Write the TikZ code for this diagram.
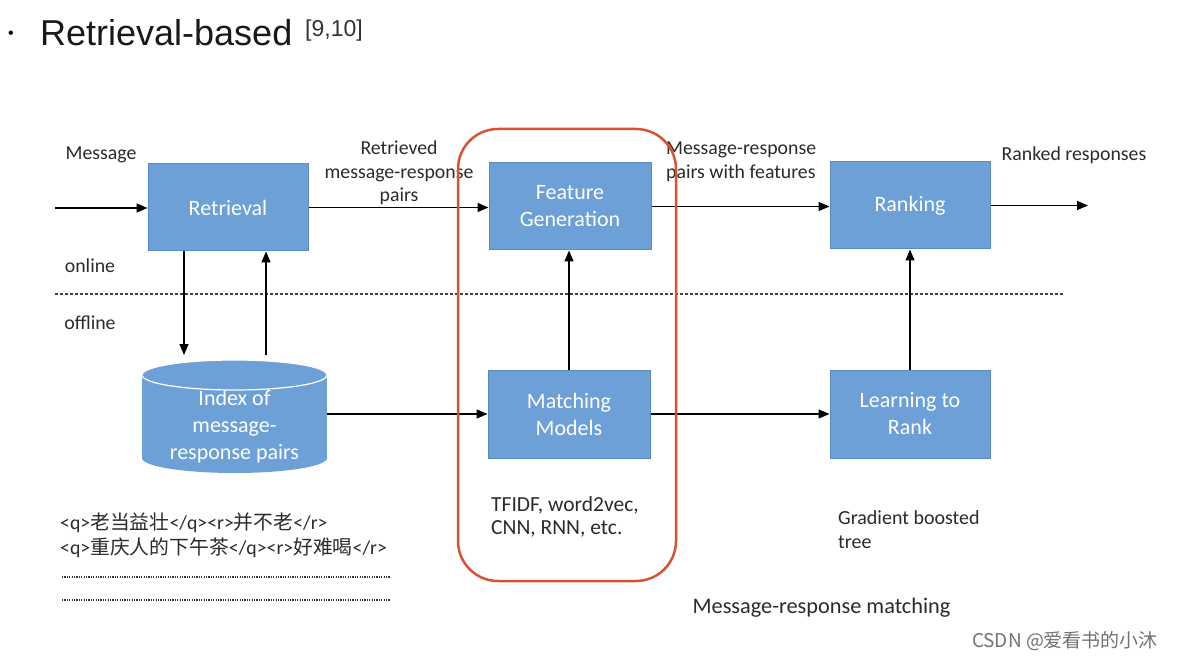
\documentclass[tikz,border=0pt]{standalone}
\usepackage{fontspec}
\setmainfont{Carlito}
\newfontfamily\titlefont{Liberation Sans}
\newfontfamily\cjk{Noto Sans CJK SC}
\usetikzlibrary{arrows.meta}
\definecolor{boxfill}{HTML}{6DA0D6}
\definecolor{boxedge}{HTML}{5A8AC4}
\definecolor{hlred}{HTML}{D95332}
\definecolor{txt}{HTML}{2B2B2B}
\begin{document}
\begin{tikzpicture}[x=1pt,y=-1pt,
  box/.style={draw=boxedge, fill=boxfill, line width=1pt, text=white, font=\fontsize{22}{27}\selectfont, align=center, minimum width=160pt, minimum height=87pt, inner sep=0pt},
  lbl/.style={font=\fontsize{19.8}{23.5}\selectfont, text=txt, inner sep=0pt},
  arr/.style={-{Triangle[length=11pt,width=9pt]}, line width=1.3pt},
  sep/.style={dashed, dash pattern=on 3pt off 2pt, line width=1.2pt, black!75},
  dots/.style={dash pattern=on 1.2pt off 1.2pt, line width=1.1pt, black!80}]
\useasboundingbox[fill=white] (0,0) rectangle (1178,660);
% title
\node[font=\titlefont\fontsize{16}{16}\selectfont, inner sep=0pt] (bul) at (11,35) {•};
\node[font=\titlefont\fontsize{36}{36}\selectfont, anchor=base west, inner sep=0pt, text=black!90] (title) at (40,46) {Retrieval-based};
\node[font=\titlefont\fontsize{23}{23}\selectfont, anchor=base west, inner sep=0pt, text=black!80] (cite) at (305,37) {[9,10]};
% boxes
\node[box] (ret) at (228,207.5) {Retrieval};
\node[box, minimum width=162pt] (fg) at (570,206.5) {Feature\\Generation};
\node[box] (rank) at (910,205.5) {Ranking};
\node[box, minimum width=162pt, minimum height=88pt] (mm) at (569,414) {Matching\\Models};
\node[box, minimum height=88pt] (ltr) at (910,414) {Learning to\\Rank};
% cylinder
\node[minimum width=185pt, minimum height=113pt, inner sep=0pt] (cyl) at (234.5,416.5) {};
\fill[boxfill] (142,375) rectangle (327,458);
\fill[boxfill] (234.5,458) ellipse [x radius=92.5, y radius=15];
\draw[white, line width=1.2pt, fill=boxfill] (234.5,375) ellipse [x radius=92.5, y radius=15];
\node[font=\fontsize{22}{27}\selectfont, text=white, align=center, inner sep=0pt] (cylt) at (234.5,427) {Index of\\message-\\response pairs};
% separator
\coordinate (s1) at (55,294);
\coordinate (s2) at (1063,294);
\draw[sep] (s1) -- (s2);
% connectors
\coordinate (in) at (55,208);
\coordinate (out) at (1088,205.5);
\coordinate (c1) at (184,355);
\coordinate (c2) at (266,355);
\draw[arr] (in) -- (in -| ret.west);
\draw[arr] (ret.east) -- (ret.east -| fg.west);
\draw[arr] (fg.east) -- (fg.east -| rank.west);
\draw[arr] (rank.east) -- (out);
\draw[arr] (ret.south -| c1) -- (c1);
\draw[arr] (c2) -- (ret.south -| c2);
\draw[arr] (cyl.east |- mm.west) -- (mm.west);
\draw[arr] (mm.north) -- (mm.north |- fg.south);
\draw[arr] (mm.east) -- (ltr.west);
\draw[arr] (ltr.north) -- (ltr.north |- rank.south);
% labels
\node[lbl] (lmsg) at (101,155) {Message};
\node[lbl] (lon) at (90,266) {online};
\node[lbl] (loff) at (90,323) {offline};
\node[lbl, align=center] (lret) at (399,173) {Retrieved\\message-response\\pairs};
\node[lbl, align=left, anchor=west] (lfeat) at (666,161.5) {Message-response\\pairs with features};
\node[lbl] (lrank) at (1074,155) {Ranked responses};
\node[lbl, font=\fontsize{21.5}{23}\selectfont, align=left, anchor=west] (ltf) at (491,516.5) {TFIDF, word2vec,\\CNN, RNN, etc.};
\node[lbl, font=\fontsize{20}{24}\selectfont, align=left, anchor=west] (lgb) at (838,530) {Gradient boosted\\tree};
\node[lbl, font=\fontsize{22.3}{24}\selectfont] (lmatch) at (821.5,608) {Message-response matching};
\node[lbl, font=\fontsize{19.8}{25}\selectfont, anchor=west] (ex1) at (60,523) {<q>{\cjk 老当益壮}</q><r>{\cjk 并不老}</r>};
\node[lbl, font=\fontsize{19.8}{25}\selectfont, anchor=west] (ex2) at (60,548) {<q>{\cjk 重庆人的下午茶}</q><r>{\cjk 好难喝}</r>};
\draw[dots] (62,577) -- (390,577);
\draw[dots] (62,600) -- (390,600);
% highlight
\node[draw=hlred, line width=2.5pt, rounded corners=40pt, minimum width=218pt, minimum height=452pt, inner sep=0pt] (hl) at (567,355) {};
% watermark
\node[font=\cjk\fontsize{19}{19}\selectfont, text=black!55, inner sep=0pt] (wm) at (1065,641) {CSDN @爱看书的小沐};
\end{tikzpicture}
\end{document}
